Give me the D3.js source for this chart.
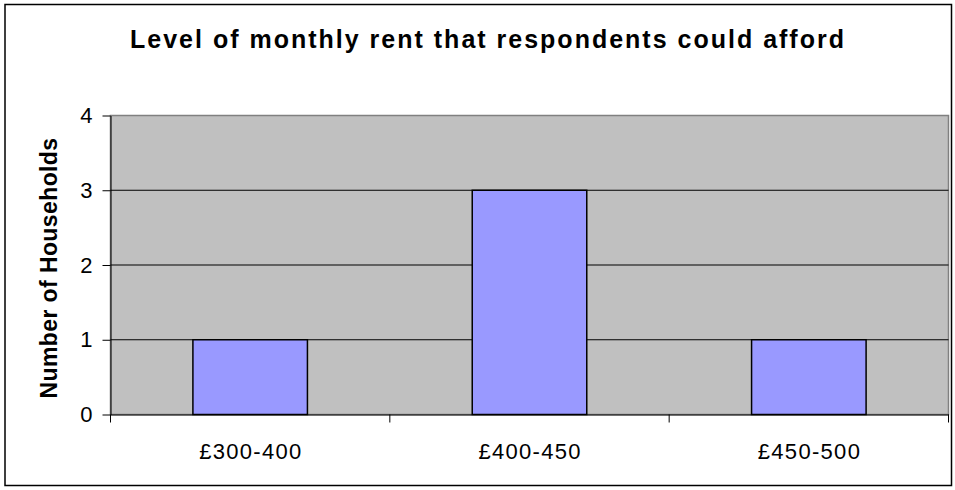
<!DOCTYPE html>
<html>
  <head>
    <meta charset="utf-8">
    <title>rent</title>
    <style media="screen">
    body{margin:0;background:#fff}
    text{font-family:Arial,"Liberation Sans",sans-serif}
    </style>
  </head>
  <body>
    <svg width="955" height="490"></svg>
    <script src="https://d3js.org/d3.v7.min.js"></script>
    <script>

    var categories = ["£300-400", "£400-450", "£450-500"];
    var households = [1, 3, 1];
    var yTicks = [0, 1, 2, 3, 4];

    // plot area edges
    var pLeft = 110.5, pRight = 948.5, pTop = 115.5, pBottom = 414.5;

    var svg = d3.select("svg");

    // outer frame
    svg.append("rect").attr("x", 5).attr("y", 4.5).attr("width", 946.5).attr("height", 481)
      .attr("fill", "#fff").attr("stroke", "#000").attr("stroke-width", 1.5);

    var x = d3.scaleBand().domain(categories).range([pLeft, pRight]).padding(0);
    var y = d3.scaleLinear().domain([0, 4]).range([pBottom, pTop]);

    // plot area
    svg.append("rect").attr("x", pLeft).attr("y", pTop).attr("width", pRight - pLeft).attr("height", pBottom - pTop)
      .attr("fill", "#c0c0c0").attr("stroke", "#808080").attr("stroke-width", 1.5);

    // gridlines
    svg.append("g").selectAll("line").data(yTicks.slice(1, 4)).join("line")
      .attr("x1", pLeft).attr("x2", pRight)
      .attr("y1", function(d) { return y(d); })
      .attr("y2", function(d) { return y(d); })
      .attr("stroke", "#000").attr("stroke-width", 1);

    // bars
    var bw = x.bandwidth() * 0.41;
    svg.append("g").selectAll("rect").data(households).join("rect")
      .attr("x", function(d, i) { return x(categories[i]) + (x.bandwidth() - bw) / 2; })
      .attr("y", function(d) { return y(d); })
      .attr("width", bw)
      .attr("height", function(d) { return y(0) - y(d); })
      .attr("fill", "#9999ff").attr("stroke", "#000").attr("stroke-width", 1.5);

    // y axis
    var yAxis = svg.append("g").attr("transform", "translate(" + pLeft + ",0)")
      .call(d3.axisLeft(y).tickValues(yTicks).tickFormat(d3.format("d")).tickSize(8).tickSizeOuter(0).tickPadding(10));
    yAxis.select(".domain").attr("stroke", "#000");
    yAxis.selectAll("text").attr("font-size", 22).attr("fill", "#000")
      .attr("font-family", "Arial, 'Liberation Sans', sans-serif");

    // x axis
    var xAxis = svg.append("g").attr("transform", "translate(0," + pBottom + ")")
      .call(d3.axisBottom(x).tickSize(0).tickSizeOuter(0).tickPadding(29));
    xAxis.select(".domain").attr("stroke", "#000");
    xAxis.selectAll("text").attr("font-size", 22).attr("fill", "#000")
      .attr("letter-spacing", 1.3).attr("dx", 0.65)
      .attr("font-family", "Arial, 'Liberation Sans', sans-serif");
    xAxis.append("g").selectAll("line").data(categories.concat(["end"])).join("line")
      .attr("x1", function(d, i) { return i < 3 ? x(d) : pRight; })
      .attr("x2", function(d, i) { return i < 3 ? x(d) : pRight; })
      .attr("y1", 0).attr("y2", 8).attr("stroke", "#000");

    // title
    svg.append("text").attr("x", 488).attr("y", 48).attr("text-anchor", "middle")
      .attr("font-size", 25).attr("font-weight", "bold").attr("letter-spacing", 2)
      .text("Level of monthly rent that respondents could afford");

    // y title
    svg.append("text").attr("transform", "translate(57," + ((pTop + pBottom) / 2 + 3) + ") rotate(-90)")
      .attr("text-anchor", "middle").attr("font-size", 23).attr("font-weight", "bold")
      .attr("letter-spacing", 0.4)
      .text("Number of Households");

    </script>
  </body>
</html>
